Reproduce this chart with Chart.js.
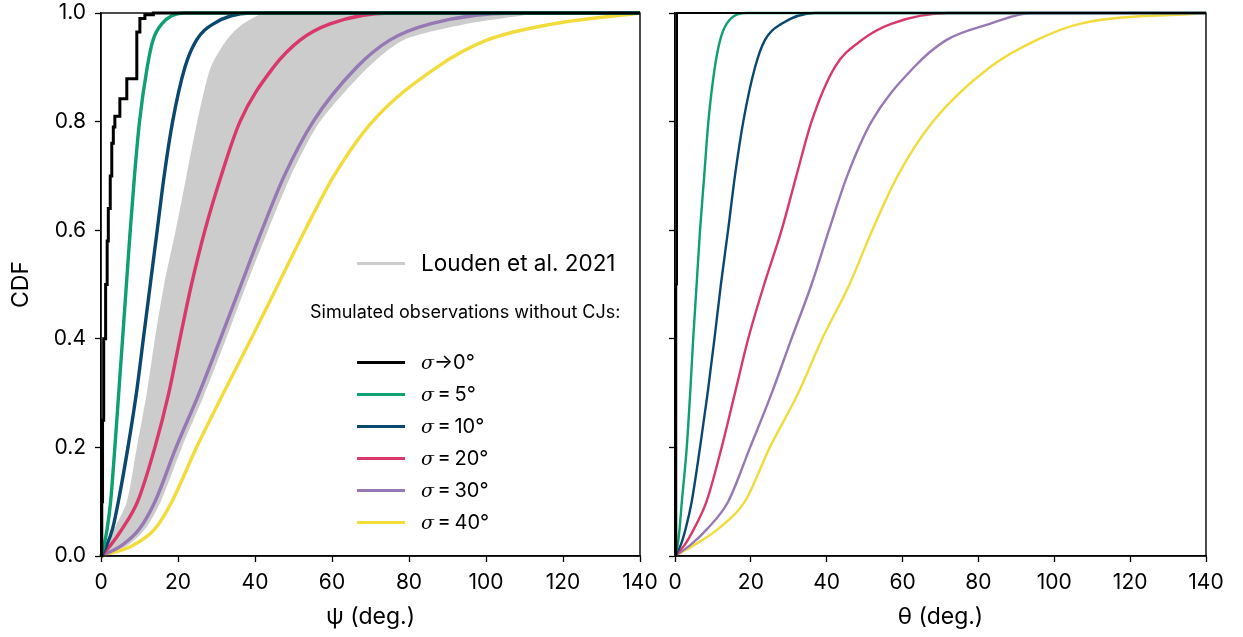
<!DOCTYPE html>
<html>
<head>
<meta charset="utf-8">
<script src="https://cdn.jsdelivr.net/npm/chart.js@4.4.0/dist/chart.umd.min.js"></script>
<style>
    html, body { margin: 0; padding: 0; background: #fff; }
    #wrap { position: relative; width: 1243px; height: 637px; font-family: Inter, "Noto Sans", sans-serif; color: #000; }
    #left { position: absolute; left: 0; top: 0; }
    #right { position: absolute; left: 660px; top: 0; }
    .key { position: absolute; left: 357px; width: 48px; height: 3px; }
    .lbl { position: absolute; left: 421px; font-size: 20px; line-height: 24px; white-space: nowrap; }
    .lbl i { font-family: "DejaVu Serif", serif; font-style: italic; font-size: 19px; }
    #header { position: absolute; left: 310px; top: 301px; font-size: 18px; white-space: nowrap; }
</style>
</head>
<body>
<div id="wrap">
    <canvas id="left" width="660" height="637"></canvas>
    <canvas id="right" width="583" height="637"></canvas>
    <div id="legend"></div>
</div>
<script>
const cdfLevels = [0, 0.02, 0.05, 0.1, 0.2, 0.3, 0.4, 0.5, 0.6, 0.7, 0.8, 0.9, 0.95, 0.98, 1];

// left panel: psi (deg.)
const psiSigma5 = [0, 0.8, 1.6, 2.5, 3.6, 4.6, 5.6, 6.6, 7.6, 8.7, 10.0, 12.0, 13.5, 15.8, 21.3];
const psiSigma10 = [0, 1.5, 3.0, 4.5, 7.0, 9.2, 11.0, 12.8, 14.6, 16.4, 18.6, 21.8, 24.8, 29.2, 38.7];
const psiSigma20 = [0, 2.5, 5.5, 9.5, 14.0, 17.6, 20.5, 23.5, 27.0, 31.2, 36.1, 44.8, 51.7, 59.5, 75];
const psiSigma30 = [0, 5.5, 10.0, 14.0, 19.5, 25.5, 31.0, 36.4, 41.8, 47.6, 55.1, 66.4, 75.0, 85.5, 107];
const psiSigma40 = [0, 8.4, 14.0, 18.4, 24.8, 31.8, 39.0, 46.0, 53.0, 60.5, 70.5, 87.2, 100.2, 117.5, 140];
const loudenLow = [0, 2.0, 3.5, 6.7, 9.3, 11.9, 14.0, 16.4, 19.4, 22.2, 25.0, 28.5, 32.6, 36.9, 43];
const loudenHigh = [0, 7.0, 11.5, 15.5, 21.0, 27.0, 32.5, 37.8, 43.4, 49.3, 56.9, 69.4, 78.5, 95.0, 112];
// sigma -> 0 is a step function
const psiSigma0X = [0, 0.2, 0.4, 0.7, 1.2, 1.6, 1.9, 2.4, 2.8, 3.2, 3.6, 4.9, 6.7, 9.3, 10.1, 11.4, 13.6, 140];
const psiSigma0Y = [0, 0.1, 0.25, 0.4, 0.5, 0.58, 0.64, 0.7, 0.76, 0.79, 0.81, 0.842, 0.879, 0.965, 0.99, 0.997, 1, 1];

// right panel: theta (deg.)
const thetaSigma5 = [0, 0.7, 1.2, 1.8, 3.1, 4.0, 4.8, 5.7, 6.6, 7.7, 8.8, 10.5, 11.9, 13.6, 19.3];
const thetaSigma10 = [0, 1.5, 2.8, 4.4, 6.6, 8.6, 10.4, 12.1, 14.0, 15.8, 18.0, 21.1, 23.7, 28.1, 36.9];
const thetaSigma20 = [0, 2.5, 5.0, 8.3, 12.3, 15.8, 19.3, 23.5, 28.1, 32.0, 36.0, 42.1, 49.2, 57.0, 72];
const thetaSigma30 = [0, 4.0, 8.5, 14.0, 19.8, 25.5, 30.7, 36.0, 40.6, 45.4, 51.8, 63.0, 71.5, 83.0, 94];
const thetaSigma40 = [0, 5.0, 11.4, 18.4, 25.0, 32.5, 38.8, 46.0, 52.0, 58.7, 68.0, 83.0, 95.3, 106.7, 140];
const thetaSigma0X = [0, 0.3, 0.5, 140];
const thetaSigma0Y = [0, 0.5, 1, 1];

const xTicks = [0, 20, 40, 60, 80, 100, 120, 140];
const yTicks = [0, 0.2, 0.4, 0.6, 0.8, 1.0];

const seriesLabels = ["\u03c3\u21920\u00b0", "\u03c3\u2009=\u20095\u00b0", "\u03c3\u2009=\u200910\u00b0", "\u03c3\u2009=\u200920\u00b0", "\u03c3\u2009=\u200930\u00b0", "\u03c3\u2009=\u200940\u00b0"];
const seriesColors = ["#000000", "#0f9f74", "#0b4870", "#d8386a", "#9678b4", "#f2dc3c"];
const loudenLabel = "Louden et al. 2021";
const loudenColor = "#cccccc";
const headerText = "Simulated observations without CJs:";

const X_MAX = 140;

const toPoints = (xs, ys) => {
    const pts = xs.map((x, i) => ({ x, y: ys[i] }));
    if (pts[pts.length - 1].x < X_MAX) {
        pts.push({ x: X_MAX, y: 1 });
    }
    return pts;
};

const lineSet = (label, xs, ys, color, width, stepped) => ({
    label,
    data: toPoints(xs, ys),
    borderColor: color,
    backgroundColor: color,
    borderWidth: width,
    pointRadius: 0,
    fill: false,
    clip: 4,
    stepped: stepped ? "before" : false,
    cubicInterpolationMode: "monotone"
});

const bandSet = () => {
    const up = loudenLow.map((x, i) => ({ x, y: cdfLevels[i] }));
    const down = loudenHigh.map((x, i) => ({ x, y: cdfLevels[i] })).reverse();
    return {
        label: loudenLabel,
        data: up.concat(down),
        borderWidth: 0,
        borderColor: loudenColor,
        backgroundColor: loudenColor,
        pointRadius: 0,
        fill: "shape",
        tension: 0.25
    };
};

const framePlugin = {
    id: "frame",
    afterDatasetsDraw(chart) {
        const { ctx, chartArea: a } = chart;
        ctx.save();
        ctx.strokeStyle = "#000";
        ctx.lineWidth = 1.4;
        ctx.strokeRect(a.left, a.top, a.right - a.left, a.bottom - a.top);
        ctx.restore();
    }
};

const tickFont = { family: "Inter", size: 21 };
const titleFont = { family: "Inter", size: 23 };

const makeOptions = (xTitle, yWidth, showY, padRight) => ({
    responsive: false,
    animation: false,
    layout: { padding: { top: 13, right: padRight, bottom: 0, left: 0 } },
    plugins: { legend: { display: false }, tooltip: { enabled: false } },
    scales: {
        x: {
            type: "linear",
            min: 0,
            max: X_MAX,
            afterFit: (s) => { s.height = 81; s.paddingLeft = 0; s.paddingRight = 0; },
            afterBuildTicks: (s) => { s.ticks = xTicks.map((v) => ({ value: v })); },
            ticks: { color: "#000", font: tickFont, padding: 8, maxRotation: 0 },
            grid: { drawOnChartArea: false, tickLength: 6, tickColor: "#000", tickWidth: 1.3 },
            border: { color: "#000", width: 1.4 },
            title: { display: true, text: xTitle, color: "#000", font: titleFont, padding: { top: 0, bottom: 6 } }
        },
        y: {
            type: "linear",
            min: 0,
            max: 1,
            afterFit: (s) => { s.width = yWidth; s.paddingTop = 0; s.paddingBottom = 0; },
            afterBuildTicks: (s) => { s.ticks = yTicks.map((v) => ({ value: v })); },
            ticks: {
                color: "#000",
                font: tickFont,
                padding: 9,
                callback: (v) => (showY ? Number(v).toFixed(1) : "")
            },
            grid: { drawOnChartArea: false, tickLength: 6, tickColor: "#000", tickWidth: 1.3 },
            border: { color: "#000", width: 1.4 },
            title: { display: showY, text: "CDF", color: "#000", font: titleFont, padding: { top: 7, bottom: 0 } }
        }
    }
});

const psiSeries = [psiSigma5, psiSigma10, psiSigma20, psiSigma30, psiSigma40];
const thetaSeries = [thetaSigma5, thetaSigma10, thetaSigma20, thetaSigma30, thetaSigma40];

new Chart(document.getElementById("left"), {
    type: "line",
    data: {
        datasets: [
            lineSet(seriesLabels[0], psiSigma0X, psiSigma0Y, seriesColors[0], 3, true),
            ...psiSeries.map((xs, i) => lineSet(seriesLabels[i + 1], xs, cdfLevels, seriesColors[i + 1], 3.4, false)),
            bandSet()
        ]
    },
    options: makeOptions("\u03c8 (deg.)", 101, true, 20),
    plugins: [framePlugin]
});

new Chart(document.getElementById("right"), {
    type: "line",
    data: {
        datasets: [
            lineSet(seriesLabels[0], thetaSigma0X, thetaSigma0Y, seriesColors[0], 2.2, true),
            ...thetaSeries.map((xs, i) => lineSet(seriesLabels[i + 1], xs, cdfLevels, seriesColors[i + 1], 2.4, false))
        ]
    },
    options: makeOptions("\u03b8 (deg.)", 15, false, 37),
    plugins: [framePlugin]
});

// legend drawn over the left panel
const legend = document.getElementById("legend");
const addEntry = (color, top, html) => {
    const key = document.createElement("div");
    key.className = "key";
    key.style.top = (top - 1.5) + "px";
    key.style.background = color;
    legend.appendChild(key);
    const lbl = document.createElement("div");
    lbl.className = "lbl";
    lbl.style.top = (top - 12) + "px";
    lbl.innerHTML = html;
    legend.appendChild(lbl);
};
addEntry(loudenColor, 263, '<span style="font-size:22.5px">' + loudenLabel + "</span>");
const header = document.createElement("div");
header.id = "header";
header.textContent = headerText;
legend.appendChild(header);
const rowTops = [362, 394, 426, 458, 490, 522];
seriesLabels.forEach((label, i) => {
    addEntry(seriesColors[i], rowTops[i], "<i>" + label.charAt(0) + "</i>" + label.slice(1));
});
</script>
</body>
</html>
